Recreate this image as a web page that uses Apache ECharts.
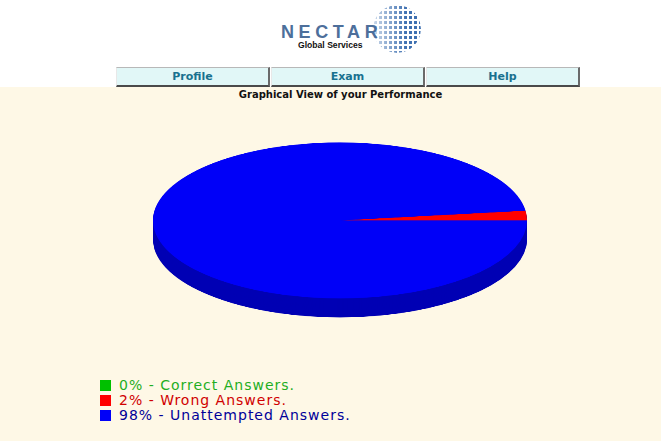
<!DOCTYPE html>
<html>
<head>
<meta charset="utf-8">
<script src="https://cdn.jsdelivr.net/npm/echarts@6/dist/echarts.min.js"></script>
<style>
  body { margin: 0; width: 661px; height: 441px; overflow: hidden; background: #fff; position: relative; font-family: "DejaVu Sans", Verdana, sans-serif; }
  #cream { position: absolute; left: 0; top: 87px; width: 661px; height: 354px; background: #fef8e6; }
  #logoText { position: absolute; left: 281px; top: 22px; font: bold 18px "Liberation Sans", Arial, sans-serif; letter-spacing: 4.6px; color: #4d6f9b; }
  #logoSub { position: absolute; left: 298px; top: 40px; font: bold 8.6px "Liberation Sans", Arial, sans-serif; color: #111; }
  #globe { position: absolute; left: 373px; top: 5px; width: 48px; height: 48px; border-radius: 50%;
    background: radial-gradient(circle, #3d6fb0 1.4px, rgba(0,0,0,0) 2px) 0 0 / 5px 5px;
    -webkit-mask-image: linear-gradient(to right, rgba(0,0,0,0.25), #000 70%); mask-image: linear-gradient(to right, rgba(0,0,0,0.25), #000 70%); }
  .btn { position: absolute; top: 67px; height: 17px; width: 151px; background: #e1f7f7; border-top: 1px solid #b8b8b8; border-left: 1px solid #e8e8e8;
    border-right: 2px solid #6a6a6a; border-bottom: 2px solid #4a4a4a; color: #18718f; font: bold 11px "DejaVu Sans", Verdana, sans-serif; text-align: center; line-height: 18px; }
  #title { position: absolute; left: 0; width: 681px; top: 89px; text-align: center; font: bold 10px "DejaVu Sans", Verdana, sans-serif; color: #111; }
  #pie { position: absolute; left: 0; top: 136.6px; width: 661px; height: 500px; transform: scaleY(0.4171); transform-origin: 0 0; }
  #legend { position: absolute; left: 100px; top: 378px; font: 14px "DejaVu Sans", Verdana, sans-serif; letter-spacing: 1px; }
  .row { height: 15px; line-height: 15px; white-space: nowrap; }
  .sw { display: inline-block; width: 11px; height: 11px; margin-right: 8px; vertical-align: -1px; }
</style>
</head>
<body>
<div id="cream"></div>
<div id="logoText">NECTAR</div>
<div id="logoSub">Global Services</div>
<div id="globe"></div>
<div class="btn" style="left:116px">Profile</div>
<div class="btn" style="left:271px">Exam</div>
<div class="btn" style="left:426px">Help</div>
<div id="title">Graphical View of your Performance</div>
<div id="pie"></div>
<div id="legend"></div>
<script>
// performance data
const categories = ['Correct Answers.', 'Wrong Answers.', 'Unattempted Answers.'];
const percents = [0, 2, 98];

const topColors = ['#00c000', '#ff0000', '#0000f8'];
const textColors = ['#1fae1f', '#d00000', '#000099'];
const sideColor = '#0000b4';

// legend rows
let legendHtml = '';
for (let i = 0; i < categories.length; i++) {
  legendHtml += '<div class="row" style="color:' + textColors[i] + '"><span class="sw" style="background:' + topColors[i] + '"></span>' +
    percents[i] + '% - ' + categories[i] + '</div>';
}
document.getElementById('legend').innerHTML = legendHtml;

// 3d pie: stacked layers, squashed by css
const cx = 340, cy = 200, radius = 187;
const depth = 45.5, layers = 24;
const pieData = categories.map(function (c, i) { return { name: c, value: percents[i] }; });

let series = [];
for (let k = layers; k >= 0; k--) {
  let isTop = k === 0;
  series.push({
    type: 'pie',
    silent: true,
    animation: false,
    center: [cx, cy + depth * k / layers],
    radius: radius,
    startAngle: 0,
    clockwise: false,
    label: { show: false },
    labelLine: { show: false },
    itemStyle: { borderWidth: 0 },
    emphasis: { disabled: true },
    data: pieData.map(function (d, i) {
      return { name: d.name, value: d.value, itemStyle: { color: isTop ? topColors[i] : sideColor } };
    })
  });
}

let myChart = echarts.init(document.getElementById('pie'));
let option = {
  backgroundColor: 'transparent',
  series: series
};
myChart.setOption(option);
</script>
</body>
</html>
